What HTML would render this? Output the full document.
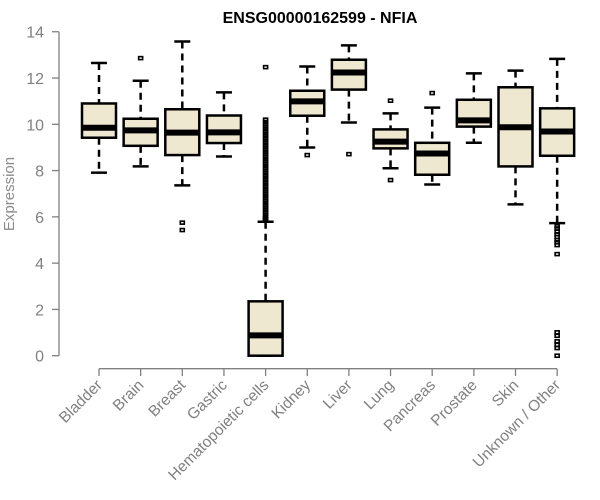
<!DOCTYPE html>
<html><head><meta charset="utf-8"><style>
body{margin:0;background:#fff;}
svg{display:block;font-family:"Liberation Sans",sans-serif;}
</style></head><body>
<svg id="chart" width="600" height="500">
<text x="320" y="23" text-anchor="middle" font-weight="bold" font-size="16">ENSG00000162599 - NFIA</text>
<text transform="translate(14,194) rotate(-90)" text-anchor="middle" font-size="15" fill="#8c8c8c">Expression</text>
<g id="axes"></g><g id="marks"></g>
</svg>
<script>
const categories=["Bladder","Brain","Breast","Gastric","Hematopoietic cells","Kidney","Liver","Lung","Pancreas","Prostate","Skin","Unknown / Other"];
const whiskerLow=[7.91,8.18,7.36,8.61,0,9.0,10.08,8.1,7.4,9.2,6.54,5.73];
const q1=[9.42,9.07,8.67,9.19,0,10.37,11.5,8.96,7.82,9.9,8.18,8.64];
const medians=[9.85,9.74,9.64,9.65,0.88,10.99,12.24,9.25,8.74,10.17,9.87,9.69];
const q3=[10.9,10.24,10.65,10.38,2.35,11.45,12.79,9.78,9.2,11.06,11.6,10.69];
const whiskerHigh=[12.65,11.88,13.58,11.38,5.79,12.5,13.41,10.47,10.72,12.2,12.32,12.83];
const outliers=[[],[12.86],[5.75,5.43],[],
[12.47,10.2,10.1,10.0,9.9,9.8,9.7,9.6,9.5,9.4,9.3,9.2,9.1,9.0,8.9,8.8,8.7,8.6,8.5,8.4,8.3,8.2,8.1,8.0,7.9,7.8,7.7,7.6,7.5,7.4,7.3,7.2,7.1,7.0,6.9,6.8,6.7,6.6,6.5,6.4,6.3,6.2,6.1,6.0,5.95,5.9,5.85],
[8.67],[8.71],[11.02,7.59],[11.35],[],[],
[5.59,5.5,5.36,5.25,5.13,5.0,4.9,4.78,4.39,1.01,0.86,0.62,0.47,0.33,0.0]];
const yTicks=[0,2,4,6,8,10,12,14];

const NS="http://www.w3.org/2000/svg";
const axes=document.getElementById('axes'),marks=document.getElementById('marks');
const y=v=>355.7-v*23.14;
const x=i=>99+i*41.65;
function mk(tag,attrs,parent){const e=document.createElementNS(NS,tag);for(const k in attrs)e.setAttribute(k,attrs[k]);parent.appendChild(e);return e;}
const gray="#808080";
let yl=mk('line',{x1:59,x2:59,y1:y(0),y2:y(14),stroke:gray,'stroke-width':1.3},axes);


yTicks.forEach(t=>{
  let l=mk('line',{x1:52,x2:59,y1:y(t),y2:y(t),stroke:gray,'stroke-width':1.3},axes);
  
  
  let tx=mk('text',{x:44,y:y(t)+6,'text-anchor':'end','font-size':16,fill:gray},axes);
  tx.textContent=t;
  
  
});
let xl=mk('line',{x1:x(0),x2:x(categories.length-1),y1:368.7,y2:368.7,stroke:gray,'stroke-width':1.3},axes);


categories.forEach((c,i)=>{
  let l=mk('line',{x1:x(i),x2:x(i),y1:368.7,y2:376,stroke:gray,'stroke-width':1.3},axes);
  
  
  let tx=mk('text',{transform:`translate(${x(i)+4},${386}) rotate(-45)`,'text-anchor':'end','font-size':15.5,fill:gray},axes);
  tx.textContent=c;
  
  
  const g=mk('g',{},marks);
  
  
  const cx=x(i);
  mk('line',{x1:cx,x2:cx,y1:y(whiskerHigh[i]),y2:y(q3[i]),stroke:'#000','stroke-width':2.5,'stroke-dasharray':'7,5'},g);
  mk('line',{x1:cx,x2:cx,y1:y(q1[i]),y2:y(whiskerLow[i]),stroke:'#000','stroke-width':2.5,'stroke-dasharray':'7,5'},g);
  mk('line',{x1:cx-8,x2:cx+8,y1:y(whiskerHigh[i]),y2:y(whiskerHigh[i]),stroke:'#000','stroke-width':2.5},g);
  mk('line',{x1:cx-8,x2:cx+8,y1:y(whiskerLow[i]),y2:y(whiskerLow[i]),stroke:'#000','stroke-width':2.5},g);
  mk('rect',{x:cx-17,y:y(q3[i]),width:34,height:y(q1[i])-y(q3[i]),fill:'#ede8cf',stroke:'#000','stroke-width':2.5},g);
  mk('line',{x1:cx-17,x2:cx+17,y1:y(medians[i]),y2:y(medians[i]),stroke:'#000','stroke-width':6},g);
  outliers[i].forEach(o=>{
    let p=mk('rect',{x:cx-2,y:y(o)-1.5,width:4,height:3,fill:'none',stroke:'#000','stroke-width':1.6},g);
    
    
  });
});
</script>
</body></html>
